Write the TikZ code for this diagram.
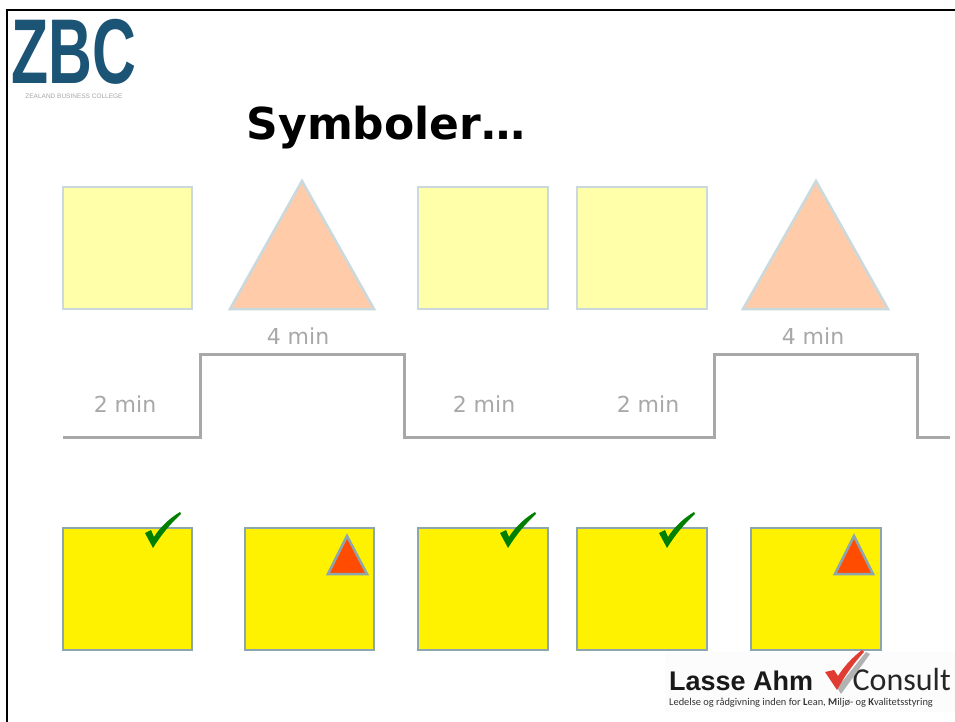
\documentclass[tikz,border=0pt]{standalone}
\usepackage{fontspec}
\setmainfont{DejaVu Sans}
\newfontfamily\logofont{Liberation Sans}
\newfontfamily\subfont{Carlito}
\definecolor{paleyellow}{HTML}{FFFFA9}
\definecolor{paleedge}{HTML}{C9D9DE}
\definecolor{paleorange}{HTML}{FFCBA8}
\definecolor{stepgray}{HTML}{A8A8A8}
\definecolor{boxedge}{HTML}{8DA6AE}
\definecolor{zbcblue}{HTML}{1C5476}
\definecolor{okgreen}{HTML}{007F00}
\definecolor{markred}{HTML}{E03C31}
\tikzset{
	planbox/.style={draw=paleedge, line width=2.5pt, fill=paleyellow},
	plantri/.style={draw=paleedge, line width=2.5pt, fill=paleorange, line join=miter},
	realbox/.style={draw=boxedge, line width=2.5pt, fill=yellow},
	warntri/.style={draw=boxedge, line width=2.5pt, fill=orange!60!red, line join=miter},
	minlabel/.style={text=stepgray, font=\fontsize{22}{24}\selectfont, inner sep=0pt}
}
\begin{document}
\begin{tikzpicture}[x=1pt,y=-1pt]
	\useasboundingbox (0,0) rectangle (955,722);
	\fill[white] (0,0) rectangle (955,722);
	\draw[line width=2.5pt] (7,722) -- (7,10) -- (955,10);

	% logo, top left
	\node (zbc) at (74,52) [text=zbcblue, inner sep=0pt, xscale=0.66, font=\logofont\bfseries\fontsize{92}{92}\selectfont] {ZBC};
	\node (college) at (74,96) [text=gray!70, inner sep=0pt, font=\logofont\fontsize{6.5}{7}\selectfont] {ZEALAND BUSINESS COLLEGE};

	\node (title) at (386,128) [inner sep=0pt, font=\bfseries\fontsize{44}{48}\selectfont] {Symboler…};

	% planned row
	\foreach \name/\xa/\xb in {pa/63/192, pb/418/548, pc/577/707}
		\draw[planbox] (\xa,187) rectangle (\xb,309);
	\draw[plantri] (230,309) -- (302,181) -- (374,309) -- cycle;
	\draw[plantri] (743,309) -- (816,181) -- (888,309) -- cycle;

	% steps
	\draw[stepgray, line width=3pt] (63,437) -- (200,437) -- (200,354) -- (404,354) -- (404,437)
		-- (714,437) -- (714,354) -- (917,354) -- (917,437) -- (950,437);
	\node (M1) at (125,404) [minlabel] {2 min};
	\node (M2) at (298,336) [minlabel] {4 min};
	\node (M3) at (484,404) [minlabel] {2 min};
	\node (M4) at (648,404) [minlabel] {2 min};
	\node (M5) at (813,336) [minlabel] {4 min};

	% actual row
	\foreach \xa/\xb in {63/192, 245/374, 418/548, 577/707, 751/881}
		\draw[realbox] (\xa,528) rectangle (\xb,650);
	\foreach \dx in {0,355,514}
		\fill[okgreen, xshift=\dx pt] (145,533) -- (151,530) -- (154,537) .. controls (160,527) and (170,518) .. (180,512)
			-- (181,514) .. controls (171,523) and (161,535) .. (153,548) -- cycle;
	\draw[warntri] (328,574) -- (347,536) -- (367,574) -- cycle;
	\draw[warntri] (835,574) -- (854,536) -- (873,574) -- cycle;

	% logo, bottom right
	\fill[black!1] (665,652) rectangle (955,712);
	\node (lasse) at (669,690) [anchor=base west, inner sep=0pt, text=black!90, font=\logofont\bfseries\fontsize{27}{28}\selectfont] {Lasse Ahm};
	\node (consult) at (951,690) [anchor=base east, inner sep=0pt, text=black!85, font=\subfont\fontsize{32}{32}\selectfont] {Consult};
	\node (slogan) at (669,705) [anchor=base west, inner sep=0pt, text=black!80, font=\subfont\fontsize{10.4}{11}\selectfont] {Ledelse og rådgivning inden for \textbf{L}ean, \textbf{M}iljø- og \textbf{K}valitetsstyring};
	\fill[black!30] (830,676) -- (841,694) -- (870,654) -- (866,652) -- (842,682) -- cycle;
	\fill[markred] (825,672) -- (834,670) -- (838,676) .. controls (845,665) and (853,657) .. (862,650)
		-- (864,652) .. controls (853,664) and (844,677) .. (837,690) -- cycle;
\end{tikzpicture}
\end{document}
